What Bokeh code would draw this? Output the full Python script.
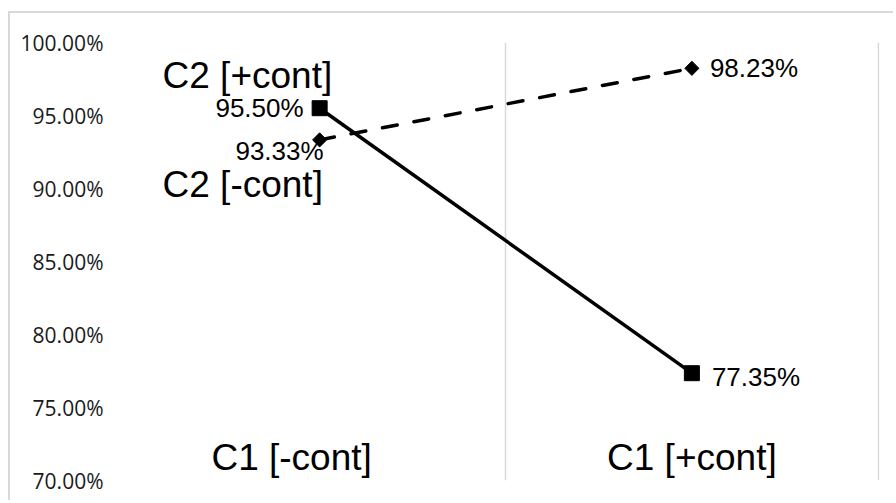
import numpy as np
from bokeh.plotting import figure
from bokeh.layouts import column, row
from bokeh.models import Range1d, FixedTicker, PrintfTickFormatter, ColumnDataSource, Label, Spacer
from bokeh.core.properties import value
from bokeh.embed import file_html
from bokeh.resources import INLINE

categories = ["C1 [-cont]", "C1 [+cont]"]
series_names = ["C2 [+cont]", "C2 [-cont]"]
plus_cont = [95.50, 77.35]
minus_cont = [93.33, 98.23]
y_ticks = [70, 75, 80, 85, 90, 95, 100]

x = np.arange(len(categories)) + 0.5

p = figure(width=885, height=489, output_backend="svg", toolbar_location=None,
           x_range=Range1d(0, len(categories) + 0.004), y_range=Range1d(y_ticks[0], y_ticks[-1]),
           min_border_left=123, min_border_right=16, min_border_top=29, min_border_bottom=22,
           styles={"box-shadow": "-2px -2px 0px 0px #d9d9d9"})
p.outline_line_color = None
p.background_fill_color = "white"
p.border_fill_color = "white"

p.xaxis.visible = False
p.yaxis.ticker = FixedTicker(ticks=y_ticks)
p.yaxis.formatter = PrintfTickFormatter(format="%.2f%%")
p.yaxis.axis_line_color = None
p.yaxis.major_tick_line_color = None
p.yaxis.minor_tick_line_color = None
p.yaxis.major_label_standoff = 24
p.yaxis.major_label_text_font = "Open Sans"
p.yaxis.major_label_text_font_size = "21px"
p.yaxis.major_label_text_color = "#1a1a1a"

p.ygrid.visible = False
p.xgrid.ticker = FixedTicker(ticks=list(range(len(categories) + 1)))
p.xgrid.grid_line_color = "#d9d9d9"
p.xgrid.grid_line_width = 1.5

# series lines
p.line(x, minus_cont, line_color="black", line_width=3.5, line_dash="15 17", line_cap="round")
p.line(x, plus_cont, line_color="black", line_width=3.5)
p.scatter(x, plus_cont, marker="square", size=15, fill_color="black", line_color="black")
p.scatter(x, minus_cont, marker="square", size=10, angle=np.pi / 4, fill_color="black", line_color="black")

font = value("Liberation Sans")
fmt = lambda v: f"{v:.2f}%"

# data labels
src_plus = ColumnDataSource(dict(x=x, y=plus_cont, t=[fmt(v) for v in plus_cont],
                                 dx=[-16, 20], dy=[0, 4], align=["right", "left"]))
src_minus = ColumnDataSource(dict(x=x, y=minus_cont, t=[fmt(v) for v in minus_cont],
                                  dx=[4, 18], dy=[11, 0], align=["right", "left"]))
for src in (src_plus, src_minus):
    p.text(x="x", y="y", text="t", source=src, x_offset="dx", y_offset="dy",
           text_align="align", text_baseline="middle", text_font=font,
           text_font_size="26px", text_color="black")

# category labels inside plot
src_cat = ColumnDataSource(dict(x=x, y=[y_ticks[0]] * len(categories), t=categories, dx=[-28, 0]))
p.text(x="x", y="y", text="t", source=src_cat, x_offset="dx", y_offset=-23,
       text_align="center", text_baseline="middle", text_font=font,
       text_font_size="37px", text_color="black")

# series name labels
p.add_layout(Label(x=0.078, y=97.74, text=series_names[0], text_font="Liberation Sans",
                   text_font_size="37px", text_baseline="middle", text_align="left", text_color="black"))
p.add_layout(Label(x=0.078, y=90.27, text=series_names[1], text_font="Liberation Sans",
                   text_font_size="37px", text_baseline="middle", text_align="left", text_color="black"))

# Bokeh's page template has no body margin: offset the chart so its border sits as in the reference
layout = column(Spacer(height=13), row(Spacer(width=10), p, spacing=0), spacing=0)

open("out.html", "w").write(file_html(layout, INLINE))
